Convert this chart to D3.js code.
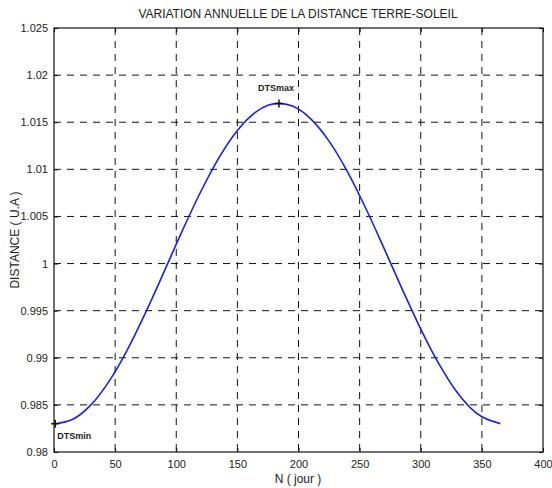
<!DOCTYPE html>
<html>
<head>
<meta charset="utf-8">
<script src="https://d3js.org/d3.v7.min.js"></script>
<style>
  * { margin:0; padding:0; }
  body { background:#fff; width:552px; height:488px; overflow:hidden; font-family:Arial,"Liberation Sans",sans-serif; }
</style>
</head>
<body>
<svg id="chart" width="552" height="488"></svg>
<script>
// ── Data ───────────────────────────────────────────────────────────────────
var dayValues  = [1, 15, 30, 45, 60, 75, 90, 105, 120, 135, 150, 165, 175, 184, 195, 210, 225, 240, 255, 270, 285, 300, 315, 330, 345, 365];
var distValues = [0.9830, 0.98344, 0.98497, 0.98750, 0.99085, 0.99482, 0.99912, 1.00349, 1.00762, 1.01125,
                  1.01413, 1.01607, 1.01679, 1.01700, 1.01671, 1.01536, 1.01299, 1.00976, 1.00587, 1.00161,
                  0.99724, 0.99305, 0.98932, 0.98628, 0.98417, 0.98301];
var xTicks      = [0, 50, 100, 150, 200, 250, 300, 350, 400];
var yTicks      = [0.98, 0.985, 0.99, 0.995, 1, 1.005, 1.01, 1.015, 1.02, 1.025];
var yTickLabels = ["0.98", "0.985", "0.99", "0.995", "1", "1.005", "1.01", "1.015", "1.02", "1.025"];
var markerDays  = [1, 184];
var markerDists = [0.9830, 1.0170];
var markerNames = ["DTSmin", "DTSmax"];

var titleText  = "VARIATION ANNUELLE DE LA DISTANCE TERRE-SOLEIL";
var xLabelText = "N ( jour )";
var yLabelText = "DISTANCE ( U.A )";

// ── Layout ─────────────────────────────────────────────────────────────────
var L = 54, R = 543, T = 28, B = 452;
var svg = d3.select("#chart");

var x = d3.scaleLinear().domain([0, 400]).range([L, R]);
var y = d3.scaleLinear().domain([0.98, 1.025]).range([B, T]);

// grid (dashed)
var grid = svg.append("g").attr("stroke", "#111").attr("stroke-width", 1)
  .attr("stroke-dasharray", "7,6").attr("fill", "none");
xTicks.slice(1, -1).forEach(function(t) {
  grid.append("line").attr("x1", x(t)).attr("x2", x(t)).attr("y1", T).attr("y2", B);
});
yTicks.slice(1, -1).forEach(function(t) {
  grid.append("line").attr("x1", L).attr("x2", R).attr("y1", y(t)).attr("y2", y(t));
});

// axes (ticks inside, MATLAB style)
var xAxis = d3.axisBottom(x).tickValues(xTicks).tickSizeInner(-4).tickSizeOuter(0).tickPadding(8);
var yAxis = d3.axisLeft(y).tickValues(yTicks).tickSizeInner(-4).tickSizeOuter(0).tickPadding(6)
  .tickFormat(function(d, i) { return yTickLabels[i]; });

var gx = svg.append("g").attr("transform", "translate(0," + B + ")").call(xAxis);
var gy = svg.append("g").attr("transform", "translate(" + L + ",0)").call(yAxis);
svg.append("g").attr("transform", "translate(0," + T + ")")
  .call(d3.axisTop(x).tickValues(xTicks).tickSizeInner(-4).tickSizeOuter(0).tickFormat(""));
svg.append("g").attr("transform", "translate(" + R + ",0)")
  .call(d3.axisRight(y).tickValues(yTicks).tickSizeInner(-4).tickSizeOuter(0).tickFormat(""));
svg.selectAll(".domain").remove();
svg.selectAll(".tick line").attr("stroke", "#111");
svg.selectAll(".tick text").attr("font-size", 11).attr("fill", "#222")
  .attr("font-family", "Arial,'Liberation Sans',sans-serif");

// box
svg.append("rect").attr("x", L).attr("y", T).attr("width", R - L).attr("height", B - T)
  .attr("fill", "none").attr("stroke", "#111").attr("stroke-width", 1.2);

// curve
var pts = dayValues.map(function(d, i) { return [d, distValues[i]]; });
var line = d3.line().x(function(d) { return x(d[0]); }).y(function(d) { return y(d[1]); })
  .curve(d3.curveMonotoneX);
svg.append("path").datum(pts).attr("d", line)
  .attr("fill", "none").attr("stroke", "#1f1fe0").attr("stroke-width", 1.6);

// markers
markerDays.forEach(function(d, i) {
  var cx = x(d), cy = y(markerDists[i]);
  svg.append("path").attr("d", "M" + (cx - 4) + "," + cy + "H" + (cx + 4) + "M" + cx + "," + (cy - 4) + "V" + (cy + 4))
    .attr("stroke", "#111").attr("stroke-width", 1.5);
  svg.append("text")
    .attr("x", i === 0 ? cx + 2 : cx - 3)
    .attr("y", i === 0 ? cy + 15 : cy - 12)
    .attr("text-anchor", i === 0 ? "start" : "middle")
    .attr("font-size", 9).attr("font-weight", "bold").attr("fill", "#222")
    .text(markerNames[i]);
});

// title & labels
svg.append("text").attr("x", 298).attr("y", 18).attr("text-anchor", "middle")
  .attr("font-size", 12).attr("fill", "#222").text(titleText);
svg.append("text").attr("x", 298).attr("y", 483).attr("text-anchor", "middle")
  .attr("font-size", 12).attr("fill", "#222").text(xLabelText);
svg.append("text").attr("transform", "translate(19,240) rotate(-90)").attr("text-anchor", "middle")
  .attr("font-size", 12).attr("fill", "#222").text(yLabelText);
</script>
</body>
</html>
